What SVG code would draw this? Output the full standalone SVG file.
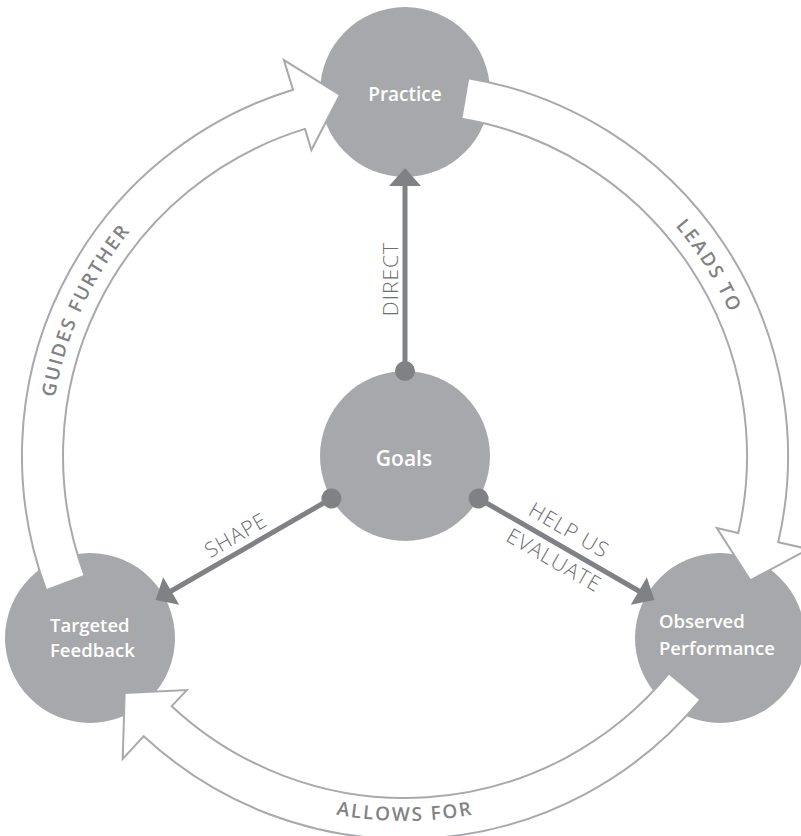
<svg xmlns="http://www.w3.org/2000/svg" width="801" height="836" viewBox="0 0 801 836">
<style>
.node{fill:#a7a8ab}
.nl{font-family:"Open Sans","Liberation Sans",sans-serif;font-weight:600;fill:#ffffff}
.band{fill:#ffffff;stroke:#a7a9ac;stroke-width:2;stroke-linejoin:miter}
.bl{font-family:"Open Sans","Liberation Sans",sans-serif;font-weight:600;font-size:19px;fill:#808285;letter-spacing:2px}
.cl{font-family:"Open Sans","Liberation Sans",sans-serif;font-weight:300;font-size:21px;fill:#6d6e71;letter-spacing:1px}
.cn{fill:#808185}
</style>
<defs>
<path id="band" d="M84.7,575.8 L46.2,590.1 A383,383 0 0 1 293.0,89.7 L283.9,60.1 L340,94.8 L311.4,150 L305,128.9 A342,342 0 0 0 84.7,575.8 Z"/>
<g id="conn">
<circle cx="405" cy="371" r="10"/>
<rect x="402.5" y="184" width="5" height="187"/>
<polygon points="405,168 389,186 421,186"/>
</g>
<path id="pGuides" d="M62.9,550.9 A355,355 0 0 1 252.2,135.6"/>
<path id="pLeads" d="M514.7,118.4 A355,355 0 0 1 756.5,505.4"/>
<path id="pAllows" d="M170.4,735.6 A365,365 0 0 0 639.6,735.6"/>
</defs>

<g id="node-practice">
<circle class="node" cx="405" cy="92" r="85"/>
<text class="nl" x="405" y="101" font-size="19" font-weight="700" text-anchor="middle">Practice</text>
</g>
<g id="node-goals">
<circle class="node" cx="405" cy="456" r="85"/>
<text class="nl" x="404" y="466" font-size="21" font-weight="700" text-anchor="middle">Goals</text>
</g>
<g id="node-observed">
<circle class="node" cx="720" cy="638" r="85"/>
<text class="nl" x="659" y="628" font-size="18.5">Observed</text>
<text class="nl" x="659" y="655" font-size="18.5">Performance</text>
</g>
<g id="node-targeted">
<circle class="node" cx="90" cy="638" r="85"/>
<text class="nl" x="50" y="632" font-size="18.5">Targeted</text>
<text class="nl" x="50" y="657" font-size="18.5">Feedback</text>
</g>

<g id="connectors">
<use href="#band" class="band"/>
<use href="#band" class="band" transform="rotate(120 405 456)"/>
<use href="#band" class="band" transform="rotate(240 405 456)"/>
<text class="bl"><textPath href="#pGuides" startOffset="50%" text-anchor="middle">GUIDES FURTHER</textPath></text>
<text class="bl"><textPath href="#pLeads" startOffset="50%" text-anchor="middle">LEADS TO</textPath></text>
<text class="bl"><textPath href="#pAllows" startOffset="50%" text-anchor="middle">ALLOWS FOR</textPath></text>

<use href="#conn" class="cn"/>
<use href="#conn" class="cn" transform="rotate(120 405 456)"/>
<use href="#conn" class="cn" transform="rotate(240 405 456)"/>
<text class="cl" text-anchor="middle" transform="translate(398,279) rotate(-90)">DIRECT</text>
<text class="cl" text-anchor="middle" transform="translate(239.5,541.6) rotate(-30)">SHAPE</text>
<text class="cl" text-anchor="middle" transform="translate(565.4,536.5) rotate(30)">HELP US</text>
<text class="cl" text-anchor="middle" transform="translate(550.4,566.5) rotate(30)">EVALUATE</text>
</g>
</svg>
